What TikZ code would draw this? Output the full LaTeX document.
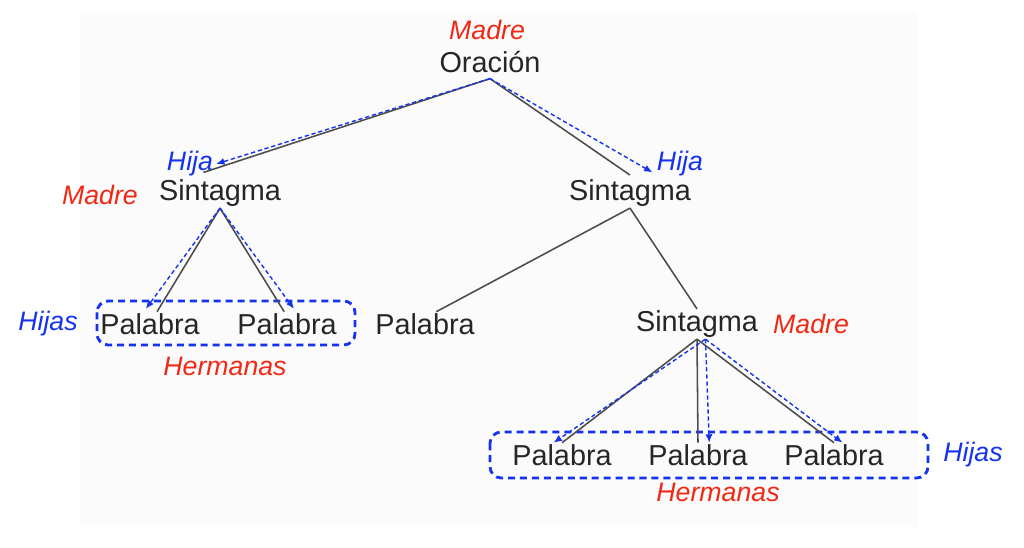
\documentclass[tikz,border=0pt]{standalone}
\usepackage{fontspec}
\setmainfont{Liberation Sans}
\usetikzlibrary{arrows.meta}
\definecolor{momred}{RGB}{240,40,20}
\definecolor{kidblue}{RGB}{20,50,240}
\tikzset{
  word/.style={inner sep=1pt, font=\fontsize{20.5}{24}\selectfont, text=black!85},
  mom/.style={inner sep=1pt, font=\fontsize{19}{24}\selectfont\itshape, text=momred},
  kid/.style={inner sep=1pt, font=\fontsize{19}{24}\selectfont\itshape, text=kidblue},
  edge/.style={draw=black!70, line width=1.1pt},
  rel/.style={draw=kidblue, line width=1pt, dash pattern=on 3pt off 2pt, -{Latex[length=6pt,width=5pt]}},
  group/.style={draw=kidblue, line width=2pt, dash pattern=on 5pt off 3.5pt, rounded corners=8pt}
}
\begin{document}
\begin{tikzpicture}[x=0.025cm,y=-0.025cm]
\useasboundingbox (0,0) rectangle (1024,547);
\fill[white] (0,0) rectangle (1024,547);
\fill[black!1.5] (80,12) rectangle (918,527);

\node[word] (root) at (490,62) {Oración};
\node[mom] (rootm) at (487,30) {Madre};

\node[word] (sl) at (220,193) {Sintagma};
\node[kid] (sli) at (190,164) {Hija};
\node[mom] (slm) at (100,195) {Madre};
\node[word] (sr) at (630,193) {Sintagma};
\node[kid] (sri) at (680,164) {Hija};

\node[word] (p1) at (150,324) {Palabra};
\node[word] (p2) at (287,324) {Palabra};
\node[word] (p3) at (425,324) {Palabra};
\node[word] (s3) at (697,324) {Sintagma};
\node[mom] (s3m) at (811,324) {Madre};
\node[kid] (h1) at (48,324) {Hijas};
\node[mom] (e1) at (225,366) {Hermanas};

\node[word] (q1) at (562,455) {Palabra};
\node[word] (q2) at (698,455) {Palabra};
\node[word] (q3) at (834,455) {Palabra};
\node[kid] (h2) at (973,455) {Hijas};
\node[mom] (e2) at (718,492) {Hermanas};

\coordinate (g1a) at (97,301);
\coordinate (g1b) at (355,345);
\coordinate (g2a) at (490,432);
\coordinate (g2b) at (928,478);
\draw[group] (g1a) rectangle (g1b);
\draw[group] (g2a) rectangle (g2b);

% tree edges
\draw[edge] ([yshift=-3pt]root.south) -- ([xshift=-8pt,yshift=-6pt]sli.east);
\draw[edge] ([yshift=-3pt]root.south) -- ([yshift=2pt]sr.north);
\draw[edge] (sl.south) -- ([xshift=5pt]p1.north);
\draw[edge] (sl.south) -- ([xshift=-2pt]p2.north);
\draw[edge] (sr.south) -- ([xshift=8pt]p3.north);
\draw[edge] (sr.south) -- (s3.north);
\draw[edge] (s3.south) -- (q1.north);
\draw[edge] (s3.south) -- (q2.north);
\draw[edge] (s3.south) -- (q3.north);

% relations
\draw[rel] ([yshift=-3pt]root.south) -- ([xshift=1pt]sli.east);
\draw[rel] ([yshift=-3pt]root.south) -- ([xshift=-2pt,yshift=-6pt]sri.west);
\draw[rel] (sl.south) -- ([xshift=-3pt,yshift=2pt]p1.north);
\draw[rel] (sl.south) -- ([xshift=5pt,yshift=2pt]p2.north);
\draw[rel] ([xshift=6pt]s3.south) -- ([xshift=-6pt]q1.north);
\draw[rel] ([xshift=6pt]s3.south) -- ([xshift=8pt]q2.north);
\draw[rel] ([xshift=6pt]s3.south) -- ([xshift=6pt]q3.north);
\end{tikzpicture}
\end{document}
